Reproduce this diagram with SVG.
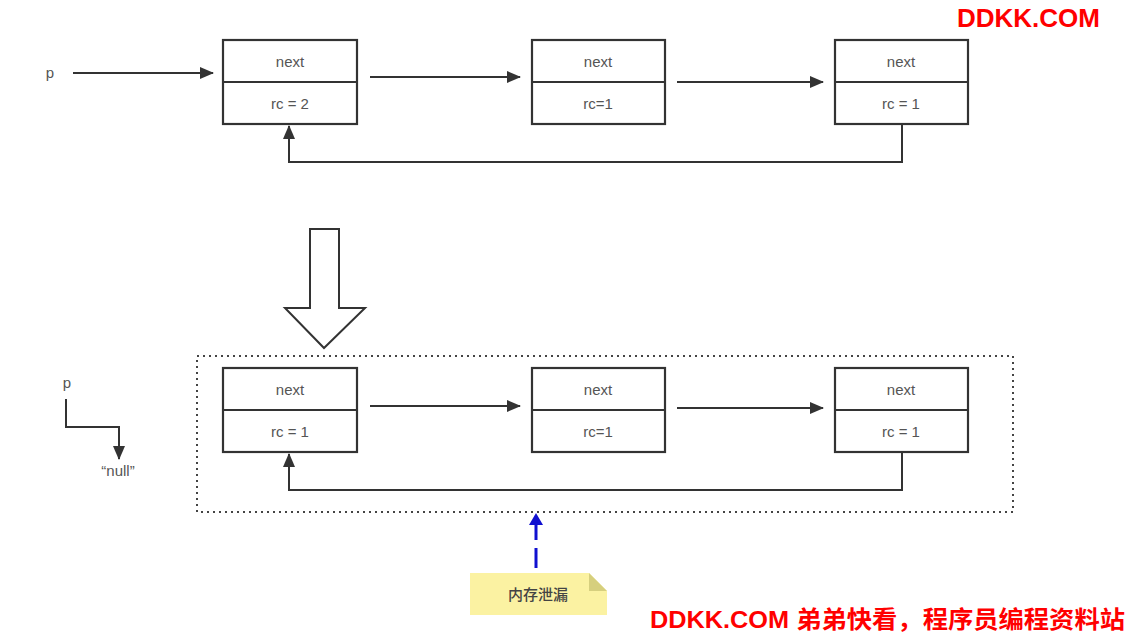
<svg xmlns="http://www.w3.org/2000/svg" width="1131" height="633" viewBox="0 0 1131 633">
<defs>
<style>
.box{fill:#fff;stroke:#333;stroke-width:2.2}
.t{font-family:"Liberation Sans",Arial,sans-serif;font-size:15px;fill:#555;text-anchor:middle}
.c{fill:none;stroke:#333;stroke-width:2}
.wm{font-family:"Liberation Sans","Noto Sans CJK SC",sans-serif;font-weight:bold;fill:#f00}
</style>
<marker id="ah" viewBox="0 0 14 12" refX="13" refY="6" markerWidth="14" markerHeight="12" markerUnits="userSpaceOnUse" orient="auto"><path d="M0,0 L14,6 L0,12 z" fill="#333"/></marker>
<marker id="bh" viewBox="0 0 12 14" refX="11" refY="7" markerWidth="12" markerHeight="14" markerUnits="userSpaceOnUse" orient="auto"><path d="M0,0 L12,7 L0,14 z" fill="#1010d0"/></marker>
</defs>
<rect width="1131" height="633" fill="#fff"/>

<g id="top-node1"><rect class="box" x="223" y="40" width="134" height="84"/><line class="c" x1="223" y1="82" x2="357" y2="82"/><text class="t" x="290" y="67">next</text><text class="t" x="290" y="109">rc = 2</text></g>
<g id="top-node2"><rect class="box" x="532" y="40" width="133" height="84"/><line class="c" x1="532" y1="82" x2="665" y2="82"/><text class="t" x="598" y="67">next</text><text class="t" x="598" y="109">rc=1</text></g>
<g id="top-node3"><rect class="box" x="835" y="40" width="133" height="84"/><line class="c" x1="835" y1="82" x2="968" y2="82"/><text class="t" x="901" y="67">next</text><text class="t" x="901" y="109">rc = 1</text></g>

<g id="bot-node1"><rect class="box" x="223" y="368" width="134" height="84"/><line class="c" x1="223" y1="410" x2="357" y2="410"/><text class="t" x="290" y="395">next</text><text class="t" x="290" y="437">rc = 1</text></g>
<g id="bot-node2"><rect class="box" x="532" y="368" width="133" height="84"/><line class="c" x1="532" y1="410" x2="665" y2="410"/><text class="t" x="598" y="395">next</text><text class="t" x="598" y="437">rc=1</text></g>
<g id="bot-node3"><rect class="box" x="835" y="368" width="133" height="84"/><line class="c" x1="835" y1="410" x2="968" y2="410"/><text class="t" x="901" y="395">next</text><text class="t" x="901" y="437">rc = 1</text></g>

<g id="labels">
<text class="t" x="50" y="78" font-size="14">p</text>
<text class="t" x="67" y="388" font-size="14">p</text>
<text class="t" x="118" y="476" font-size="14">“null”</text>
</g>

<g id="leak-group"><rect x="197" y="356" width="816" height="156" fill="none" stroke="#444" stroke-width="2" stroke-dasharray="2 4"/></g>

<g id="big-arrow"><path d="M310,229 L339,229 L339,308 L365,308 L324,348 L285,308 L310,308 Z" fill="#fff" stroke="#333" stroke-width="2" stroke-linejoin="miter"/></g>

<g id="note"><path d="M470,573 L589,573 L607,591 L607,615 L470,615 Z" fill="#fbf2a2"/><path d="M589,573 L607,591 L589,591 Z" fill="#d6cf7e"/><text x="538" y="600" font-family="'Noto Sans CJK SC',sans-serif" font-size="15" font-weight="500" fill="#444" text-anchor="middle">内存泄漏</text></g>

<g id="connectors">
<line class="c" x1="73" y1="73" x2="213" y2="73" marker-end="url(#ah)"/>
<line class="c" x1="370" y1="77" x2="520" y2="77" marker-end="url(#ah)"/>
<line class="c" x1="677" y1="82" x2="823" y2="82" marker-end="url(#ah)"/>
<polyline class="c" points="902,124 902,162 289,162 289,126" marker-end="url(#ah)"/>
<line class="c" x1="370" y1="406" x2="520" y2="406" marker-end="url(#ah)"/>
<line class="c" x1="677" y1="408" x2="823" y2="408" marker-end="url(#ah)"/>
<polyline class="c" points="902,452 902,490 289,490 289,454" marker-end="url(#ah)"/>
<polyline class="c" points="66,399 66,427 119,427 119,459" marker-end="url(#ah)"/>
<line x1="536" y1="568" x2="536" y2="514" stroke="#1010d0" stroke-width="3" stroke-dasharray="20 8" marker-end="url(#bh)"/>
</g>

<g id="watermarks">
<text class="wm" x="957" y="27" font-size="25" textLength="143" lengthAdjust="spacingAndGlyphs">DDKK.COM</text>
<text class="wm" x="650" y="628" font-size="24" textLength="475" lengthAdjust="spacingAndGlyphs">DDKK.COM 弟弟快看，程序员编程资料站</text>
</g>
</svg>
